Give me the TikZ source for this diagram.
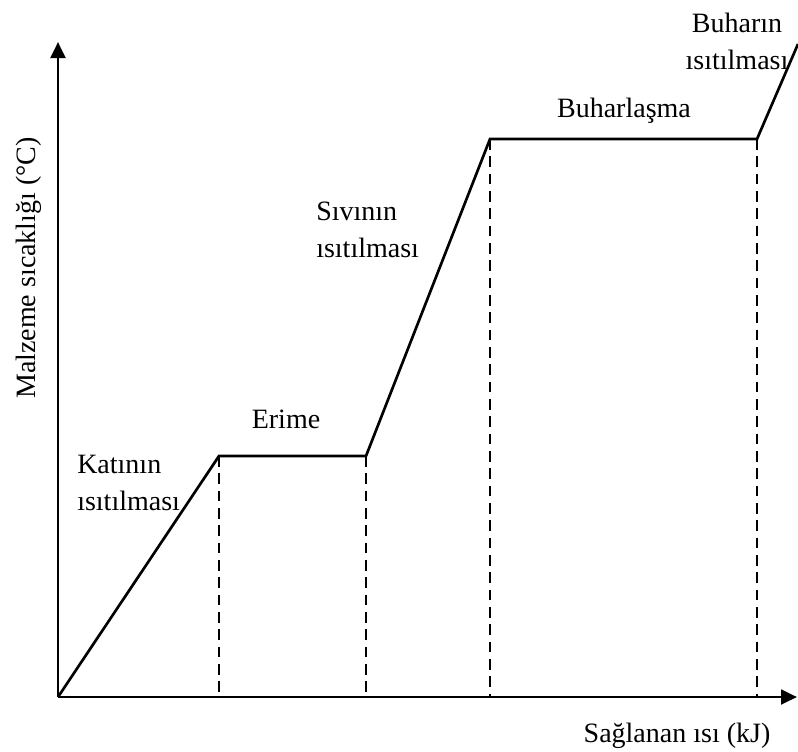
\documentclass[tikz,border=0pt]{standalone}
\usepackage{fontspec}
\setmainfont{Liberation Serif}
\usetikzlibrary{arrows.meta}

\begin{document}
\begin{tikzpicture}[x = 0.75pt, y = -0.75pt,
        label/.style = {inner sep = 0pt, font = \fontsize{21}{27.75}\selectfont},
        axis/.style = {line width = 2.2pt, -{Triangle[length = 12pt, width = 11pt]}},
        phase/.style = {line width = 2pt, line join = miter},
        guide/.style = {line width = 1.2pt, dash pattern = on 8pt off 5pt}]
        \useasboundingbox (0, 0) rectangle (798, 751);
        % axes
        \coordinate (origin) at (58, 697);
        \coordinate (ytip) at (58, 42);
        \coordinate (xtip) at (797, 697);
        \draw[axis] (origin) -- (ytip);
        \draw[axis] (origin) -- (xtip);
        % heating curve
        \coordinate (melt_start) at (219, 456);
        \coordinate (melt_end) at (366, 456);
        \coordinate (boil_start) at (490, 139);
        \coordinate (boil_end) at (757, 139);
        \coordinate (vapour_end) at (798, 44);
        \draw[phase] (origin) -- (melt_start) -- (melt_end)
            -- (boil_start) -- (boil_end) -- (vapour_end);
        \draw[guide] (melt_start) -- (melt_start |- origin);
        \draw[guide] (melt_end) -- (melt_end |- origin);
        \draw[guide] (boil_start) -- (boil_start |- origin);
        \draw[guide] (boil_end) -- (boil_end |- origin);
        % labels
        \node[label, anchor = north west, align = left]
            at (77, 455) (solid) {Katının\\ısıtılması};
        \node[label, anchor = base] at (286, 428) (melting) {Erime};
        \node[label, anchor = north west, align = left]
            at (316, 202) (liquid) {Sıvının\\ısıtılması};
        \node[label, anchor = base] at (624, 117) (boiling) {Buharlaşma};
        \node[label, anchor = north, align = center]
            at (737, 13) (vapour) {Buharın\\ısıtılması};
        \node[label, anchor = base] at (677, 742) (xlabel) {Sağlanan ısı (kJ)};
        \node[label, anchor = base, rotate = 90]
            at (35, 268) (ylabel) {Malzeme sıcaklığı (°C)};
    \end{tikzpicture}
\end{document}
